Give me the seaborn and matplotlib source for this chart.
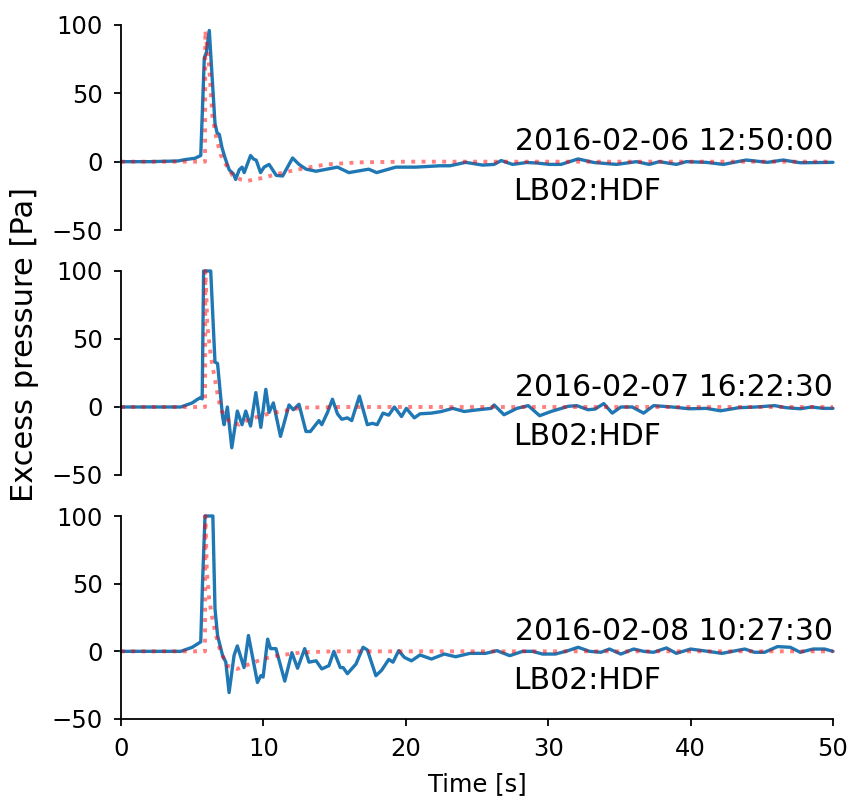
import numpy as np
import pandas as pd
import matplotlib
matplotlib.use("Agg")
import matplotlib.pyplot as plt
import seaborn as sns

# ---------------- data ----------------
dates = ["2016-02-06 12:50:00", "2016-02-07 16:22:30", "2016-02-08 10:27:30"]
station = "LB02:HDF"

t_obs1 = [0, 2, 4, 4.5, 5.2, 5.6, 5.85, 6.0, 6.2, 6.4, 6.6, 6.75, 6.9, 7.1, 7.3, 7.6, 7.9, 8.05, 8.3, 8.5,
          8.65, 9.1, 9.3, 9.5, 9.8, 10.05, 10.4, 10.9, 11.35, 12.05, 12.5, 13.0, 13.7, 15.2, 16.0, 17.4,
          17.95, 19.3, 20.7, 22.4, 23.1, 24.2, 25.4, 26.2, 26.7, 27.5, 28.5, 29.2, 30.1, 30.9, 32.1, 33.2,
          34.8, 36.2, 37.1, 37.8, 39.0, 39.7, 41.1, 42.3, 43.9, 45.4, 46.5, 47.7, 50.0]
p_obs1 = [0, 0, 0.5, 1.5, 2.5, 4.5, 76, 80, 96, 62, 28, 21, 20, 10, 3, -6, -9, -13, -6, -4,
          -8, 4.5, 2, 1, -8, -4, -2, -10, -10.5, 2.7, -2, -5.5, -7, -4, -8, -5.5,
          -8, -4, -4, -3, -3, -0.5, -2.5, -2, 0.8, -2, -0.6, -1, -2, -2, 2, -0.6,
          -2, 0, -2, 0, -2, 0, -0.5, -2, 1.2, -0.5, 1.2, -0.8, -0.5]

t_mod1 = [0, 5.9, 5.92, 6.1, 6.2, 6.42, 6.7, 7.0, 7.36, 7.83, 8.4, 8.9, 9.9, 11.35, 13.0, 14.4, 16.7, 20, 50]
p_mod1 = [0, 0, 96, 78, 68, 33, 17, 5, -2, -10, -13, -14, -12, -8, -4.6, -2, -0.5, 0, 0]

t_obs2 = [0, 4.2, 5.0, 5.35, 5.6, 5.7, 5.8, 6.3, 6.6, 6.78, 7.13, 7.24, 7.47, 7.78, 8.17, 8.5, 8.76, 9.1,
          9.47, 9.82, 10.17, 10.4, 10.7, 11.2, 11.8, 12.1, 12.5, 12.99, 13.3, 13.9, 14.1, 14.5, 14.85,
          15.2, 15.5, 15.9, 16.2, 16.74, 17.3, 17.65, 17.99, 18.4, 18.8, 19.2, 19.7, 20.04, 20.6, 21.0,
          21.8, 22.5, 23.3, 24.1, 25.1, 26.0, 26.2, 26.9, 27.8, 28.6, 29.4, 30.2, 31.4, 32.0, 32.8, 33.3,
          33.9, 34.5, 35.1, 35.9, 36.7, 37.4, 38.7, 39.9, 41.1, 42.1, 43.4, 44.6, 45.9, 46.7, 47.7, 48.5,
          49.3, 50]
p_obs2 = [0, 0, 3, 5.5, 7, 6, 100, 100, 33, 32, -7, -13, 0, -30, -3, -13, -3, -14,
          10.6, -15, 13, -4, 3, -21.6, 1.5, -2, 2, -18, -18, -10, -13, -4, 5.7,
          -5, -9, -8, -10, 8, -13, -12, -13, -4.5, -6, 0, -7, -1, -8, -5,
          -4.5, -3.3, -1, -3.3, -2, -1, 1.5, -5.7, -1, 1, -6.4, -3.3, 0.5, 1, -2, -1.5,
          2.5, -4.5, 0, 0, -4.5, 1, 0, -1.3, -1, -2.8, -0.5, 0, 1, -0.5, -1.3, 0,
          -1, -1]

t_mod2 = [0, 5.9, 5.92, 5.95, 6.07, 6.31, 6.55, 6.78, 7.0, 7.6, 8.3, 9.0, 10.17, 11.35, 12.75, 15, 50]
p_mod2 = [0, 0, 100, 94, 59, 37, 23, 9.5, -2, -10.5, -13, -9, -5.5, -3, -0.5, 0, 0]

t_obs3 = [0, 4.2, 5.0, 5.6, 5.72, 5.9, 6.45, 6.6, 6.78, 7.13, 7.36, 7.59, 7.94, 8.17, 8.64, 8.95, 9.58,
          9.82, 9.98, 10.3, 10.5, 10.88, 11.5, 12.0, 12.4, 12.9, 13.2, 13.7, 14.1, 14.6, 14.95, 15.4,
          15.6, 15.9, 16.5, 17.0, 17.3, 17.9, 18.3, 18.8, 19.1, 19.5, 19.9, 20.4, 21.0, 21.8, 22.7,
          23.5, 24.5, 25.6, 26.4, 27.3, 28.2, 28.9, 29.6, 30.5, 31.4, 32.1, 32.9, 33.7, 34.3, 35.1,
          36.0, 36.7, 37.4, 38.3, 39.0, 40.0, 41.2, 42.2, 43.8, 44.5, 45.2, 46.1, 47.0, 47.7, 48.6,
          49.4, 50]
p_obs3 = [0, 0, 3, 7, 49, 100, 100, 31.6, 11.7, -3, -8, -30.5, -3, 4, -12, 11.7, -23,
          -18, -19, 9, 2, 2, -22, -1, -12.5, 2, -8, -7, -13, -10.6, 0, -12,
          -12, -16.5, -9.4, 3, 1, -18, -14, -6, -8, 0.5, -4.5, -7, -2.7, -5.7, -2,
          -4, -1.5, -1.5, 0.5, -3.2, 0, 0, -2, -2, 0.5, 3, 0, -0.7, 1.7, -2,
          1.7, 0, -0.7, 2.5, -1.5, 1.7, 0, -1.5, 1.7, -0.7, -0.7, 3.5, 3, -0.7, 1.7,
          1.7, 0]

t_mod3 = [0, 5.9, 5.92, 5.95, 6.03, 6.19, 6.42, 6.66, 7.0, 7.47, 8.17, 9.0, 9.94, 11.1, 12.75, 15, 50]
p_mod3 = [0, 0, 100, 89, 59, 39, 24, 12, -0.7, -10.6, -13, -9.5, -5.7, -3, -0.7, 0, 0]

y_ticks = [-50, 0, 50, 100]
x_ticks = [0, 10, 20, 30, 40, 50]

# ---------------- figure ----------------
sns.set_style("ticks", {"axes.edgecolor": "black", "text.color": "black",
                        "xtick.color": "black", "ytick.color": "black",
                        "axes.labelcolor": "black"})
plt.rcParams["font.family"] = ["DejaVu Sans"]

W, H = 850, 796
fig = plt.figure(figsize=(W / 100, H / 100), dpi=100)

panels = [
    (t_obs1, p_obs1, t_mod1, p_mod1, 25, 230),
    (t_obs2, p_obs2, t_mod2, p_mod2, 271, 475),
    (t_obs3, p_obs3, t_mod3, p_mod3, 516, 719),
]
x0, x1 = 121, 833

for i, (to, po, tm, pm, top, bot) in enumerate(panels):
    ax = fig.add_axes([x0 / W, 1 - bot / H, (x1 - x0) / W, (bot - top) / H])
    obs = pd.DataFrame({"t": to, "p": po})
    mod = pd.DataFrame({"t": tm, "p": pm})
    sns.lineplot(data=obs, x="t", y="p", ax=ax, color="#1f77b4", lw=2.4,
                 estimator=None, sort=False, clip_on=False)
    sns.lineplot(data=mod, x="t", y="p", ax=ax, color="red", alpha=0.5, lw=2.8,
                 linestyle=":", estimator=None, sort=False, clip_on=False)
    ax.set_xlim(0, 50)
    ax.set_ylim(-50, 100)
    ax.set_yticks(y_ticks)
    ax.set_xlabel("")
    ax.set_ylabel("")
    ax.tick_params(axis="both", labelsize=17.5, length=5, width=1.3, pad=8,
                   colors="black")
    for s in ax.spines.values():
        s.set_linewidth(1.3)
        s.set_color("black")
    ax.text(50, 4, dates[i], ha="right", va="bottom", fontsize=21.5, color="black")
    ax.text(27.55, -11, station, ha="left", va="top", fontsize=21.5, color="black")
    if i < 2:
        sns.despine(ax=ax, bottom=True)
        ax.set_xticks([])
    else:
        sns.despine(ax=ax)
        ax.set_xticks(x_ticks)
    ax.patch.set_alpha(0)

fig.text(25 / W, 1 - 344 / H, "Excess pressure [Pa]", rotation=90, ha="center",
         va="center", fontsize=22, color="black")
fig.text(477.5 / W, 1 - 772 / H, "Time [s]", ha="center", va="top", fontsize=17.5,
         color="black")

fig.savefig("out.png", dpi=100)
